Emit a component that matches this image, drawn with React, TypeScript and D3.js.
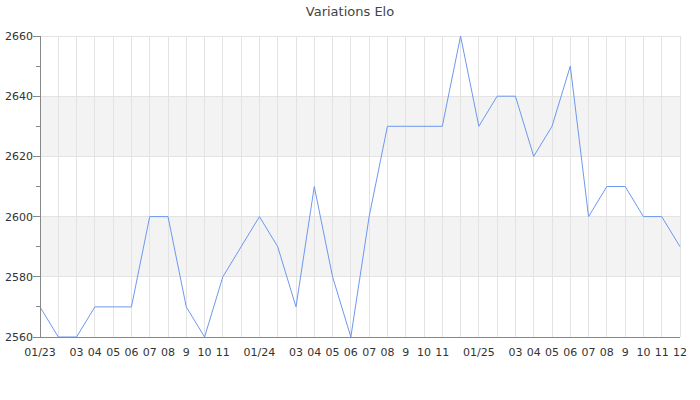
import React from "react";
import * as d3 from "d3";

const months: string[] = [
  "01/23","02","03","04","05","06","07","08","9","10","11","12",
  "01/24","02","03","04","05","06","07","08","9","10","11","12",
  "01/25","02","03","04","05","06","07","08","9","10","11","12",
];
const shownLabels: boolean[] = months.map((m, i) => !(i === 1 || i === 11 || i === 13 || i === 23 || i === 25));
const elo: number[] = [
  2570, 2560, 2560, 2570, 2570, 2570, 2600, 2600, 2570, 2560, 2580, 2590,
  2600, 2590, 2570, 2610, 2580, 2560, 2600, 2630, 2630, 2630, 2630, 2660,
  2630, 2640, 2640, 2620, 2630, 2650, 2600, 2610, 2610, 2600, 2600, 2590,
];
const yMajor: number[] = [2560, 2580, 2600, 2620, 2640, 2660];
const yMinor: number[] = [2570, 2590, 2610, 2630, 2650];
const bands: [number, number][] = [[2580, 2600], [2620, 2640]];

export default function App() {
  const W = 700, H = 400;
  const left = 40, right = 680, top = 36, bottom = 337;
  const x = d3.scaleLinear().domain([0, months.length - 1]).range([left, right]);
  const y = d3.scaleLinear().domain([2560, 2660]).range([bottom, top]);
  const line = d3.line<number>().x((_, i) => x(i)).y((d) => y(d));
  const font = "DejaVu Sans, sans-serif";
  return (
    <svg width={W} height={H} style={{ position: "absolute", left: 0, top: 0 }} fontFamily={font}>
      <rect width={W} height={H} fill="#fff" />
      <text x={350} y={16} textAnchor="middle" fontSize={13} fill="#444">Variations Elo</text>
      {bands.map(([a, b], i) => (
        <rect key={i} x={left} y={y(b)} width={right - left} height={y(a) - y(b)} fill="#f3f3f3" shapeRendering="crispEdges" />
      ))}
      {months.map((_, i) => (
        <line key={i} x1={x(i)} x2={x(i)} y1={top} y2={bottom} stroke="#e3e3e3" strokeWidth={1} shapeRendering="crispEdges" />
      ))}
      {yMajor.map((v) => (
        <line key={v} x1={left} x2={right} y1={y(v)} y2={y(v)} stroke="#e3e3e3" strokeWidth={1} shapeRendering="crispEdges" />
      ))}
      <path d={line(elo) || ""} fill="none" stroke="#6d98ef" strokeWidth={1} />
      <line x1={left} x2={left} y1={top} y2={bottom} stroke="#888" strokeWidth={1} shapeRendering="crispEdges" />
      <line x1={left} x2={right} y1={bottom} y2={bottom} stroke="#888" strokeWidth={1} shapeRendering="crispEdges" />
      {yMajor.map((v) => (
        <g key={v}>
          <line x1={left - 7} x2={left} y1={y(v)} y2={y(v)} stroke="#888" shapeRendering="crispEdges" />
          <text x={left - 7} y={y(v) + 4} textAnchor="end" fontSize={11} fill="#333">{v}</text>
        </g>
      ))}
      {yMinor.map((v) => (
        <line key={v} x1={left - 4} x2={left} y1={y(v)} y2={y(v)} stroke="#888" shapeRendering="crispEdges" />
      ))}
      {months.map((m, i) =>
        shownLabels[i] ? (
          <text key={i} x={x(i)} y={356} textAnchor="middle" fontSize={11} fill="#333">{m}</text>
        ) : null
      )}
    </svg>
  );
}
